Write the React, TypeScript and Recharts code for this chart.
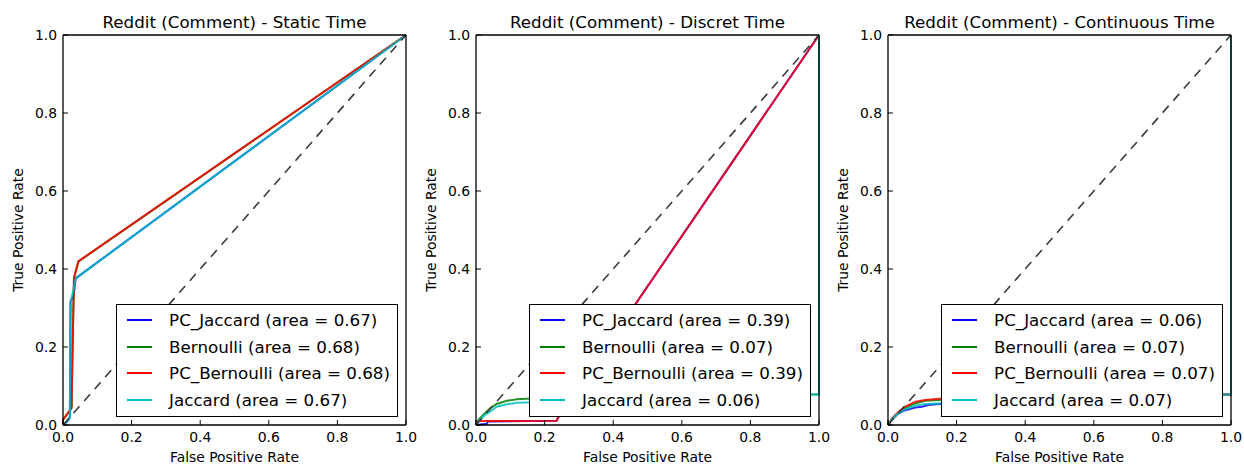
import React from "react";
import { LineChart, Line, XAxis, YAxis } from "recharts";

const ticks = [0, 0.2, 0.4, 0.6, 0.8, 1.0];
const seriesNames = ["PC_Jaccard", "Bernoulli", "PC_Bernoulli", "Jaccard"];
const seriesColors = ["#0000ff", "#008000", "#ff0000", "#00bfbf"];
const chanceFpr = [0, 1];
const chanceTpr = [0, 1];

// Static Time
const staticTitle = "Reddit (Comment) - Static Time";
const staticAreas = [0.67, 0.68, 0.68, 0.67];
const staticPcJaccardFpr = [0, 0.006, 0.013, 0.02, 0.022, 0.03, 0.033, 0.037, 1];
const staticPcJaccardTpr = [0, 0.004, 0.01, 0.02, 0.316, 0.33, 0.346, 0.376, 1];
const staticBernoulliFpr = [0, 0, 0.025, 0.028, 0.032, 0.045, 1];
const staticBernoulliTpr = [0, 0.013, 0.043, 0.2, 0.376, 0.419, 1];
const staticPcBernoulliFpr = [0, 0, 0.025, 0.028, 0.032, 0.045, 1];
const staticPcBernoulliTpr = [0, 0.014, 0.044, 0.2, 0.377, 0.42, 1];
const staticJaccardFpr = [0, 0.006, 0.013, 0.02, 0.022, 0.03, 0.037, 1];
const staticJaccardTpr = [0, 0.004, 0.01, 0.02, 0.316, 0.345, 0.376, 1];

// Discret Time
const discretTitle = "Reddit (Comment) - Discret Time";
const discretAreas = [0.39, 0.07, 0.39, 0.06];
const discretPcJaccardFpr = [0, 0.031, 0.035, 0.235, 0.24, 1];
const discretPcJaccardTpr = [0, 0.003, 0.009, 0.011, 0.02, 1];
const discretBernoulliFpr = [0, 0.007, 0.026, 0.041, 0.06, 0.09, 0.119, 0.148, 0.3, 0.6, 0.98, 1, 1];
const discretBernoulliTpr = [0, 0.013, 0.03, 0.043, 0.054, 0.062, 0.066, 0.067, 0.071, 0.075, 0.078, 0.078, 1];
const discretPcBernoulliFpr = [0, 0.005, 0.235, 0.24, 1];
const discretPcBernoulliTpr = [0, 0.01, 0.011, 0.02, 1];
const discretJaccardFpr = [0, 0.007, 0.026, 0.041, 0.06, 0.09, 0.119, 0.148, 0.3, 0.6, 0.98, 1, 1];
const discretJaccardTpr = [0, 0.009, 0.026, 0.034, 0.047, 0.053, 0.057, 0.058, 0.065, 0.072, 0.078, 0.078, 1];

// Continuous Time
const continuousTitle = "Reddit (Comment) - Continuous Time";
const continuousAreas = [0.06, 0.07, 0.07, 0.07];
const continuousPcJaccardFpr = [0, 0.012, 0.031, 0.05, 0.08, 0.099, 0.117, 0.148, 0.4, 0.7, 0.98, 1, 1];
const continuousPcJaccardTpr = [0, 0.015, 0.03, 0.038, 0.045, 0.047, 0.051, 0.054, 0.066, 0.073, 0.078, 0.078, 1];
const continuousBernoulliFpr = [0, 0.012, 0.031, 0.05, 0.08, 0.109, 0.148, 0.4, 0.7, 0.98, 1, 1];
const continuousBernoulliTpr = [0, 0.016, 0.032, 0.043, 0.056, 0.062, 0.064, 0.071, 0.075, 0.078, 0.078, 1];
const continuousPcBernoulliFpr = [0, 0.012, 0.031, 0.05, 0.08, 0.109, 0.148, 0.4, 0.7, 0.98, 1, 1];
const continuousPcBernoulliTpr = [0, 0.017, 0.034, 0.047, 0.06, 0.064, 0.067, 0.072, 0.076, 0.078, 0.078, 1];
const continuousJaccardFpr = [0, 0.012, 0.031, 0.05, 0.08, 0.109, 0.148, 0.4, 0.7, 0.98, 1, 1];
const continuousJaccardTpr = [0, 0.015, 0.031, 0.04, 0.05, 0.054, 0.055, 0.066, 0.073, 0.078, 0.078, 1];

const toPoints = (fpr: number[], tpr: number[]) => fpr.map((x, i) => ({ x, y: tpr[i] }));

const FONT = "'DejaVu Sans', sans-serif";
const CHART_H = 465;
const TOP_H = 35;
const BOTTOM_H = 40;
const frame = { stroke: "#000", strokeWidth: 1.3 };

const BottomTick = ({ x, y, payload }: any) => (
  <g>
    <line x1={x} x2={x} y1={y} y2={y - 5} stroke="#000" />
    <text x={x} y={y + 17} textAnchor="middle" fontSize={13.9} fontFamily={FONT} fill="#000">
      {payload.value.toFixed(1)}
    </text>
  </g>
);
const TopTick = ({ x, y }: any) => <line x1={x} x2={x} y1={y} y2={y + 5} stroke="#000" />;
const LeftTick = ({ x, y, payload }: any) => (
  <g>
    <line x1={x} x2={x + 5} y1={y} y2={y} stroke="#000" />
    <text x={x - 6} y={y} dy="0.35em" textAnchor="end" fontSize={13.9} fontFamily={FONT} fill="#000">
      {payload.value.toFixed(1)}
    </text>
  </g>
);
const RightTick = ({ x, y }: any) => <line x1={x} x2={x - 5} y1={y} y2={y} stroke="#000" />;

type PanelProps = {
  title: string;
  curves: { x: number; y: number }[][];
  areas: number[];
  left: number;
  width: number;
  leftW: number;
  rightW: number;
};

function RocPanel({ title, curves, areas, left, width, leftW, rightW }: PanelProps) {
  const plotW = width - leftW - rightW;
  return (
    <div style={{ position: "absolute", left, top: 0, width, height: CHART_H }}>
      <LineChart width={width} height={CHART_H} margin={{ top: 0, right: 0, bottom: 0, left: 0 }}>
        <XAxis
          xAxisId="bottom"
          type="number"
          dataKey="x"
          domain={[0, 1]}
          ticks={ticks}
          interval={0}
          height={BOTTOM_H}
          tickSize={0}
          tickMargin={0}
          tickLine={false}
          axisLine={frame}
          tick={(p: any) => <BottomTick {...p} />}
        />
        <XAxis
          xAxisId="top"
          orientation="top"
          type="number"
          dataKey="x"
          domain={[0, 1]}
          ticks={ticks}
          interval={0}
          height={TOP_H}
          tickSize={0}
          tickMargin={0}
          tickLine={false}
          axisLine={frame}
          tick={(p: any) => <TopTick {...p} />}
        />
        <YAxis
          yAxisId="left"
          type="number"
          domain={[0, 1]}
          ticks={ticks}
          interval={0}
          width={leftW}
          tickSize={0}
          tickMargin={0}
          tickLine={false}
          axisLine={frame}
          tick={(p: any) => <LeftTick {...p} />}
        />
        <YAxis
          yAxisId="right"
          orientation="right"
          type="number"
          domain={[0, 1]}
          ticks={ticks}
          interval={0}
          width={rightW}
          tickSize={0}
          tickMargin={0}
          tickLine={false}
          axisLine={frame}
          tick={(p: any) => <RightTick {...p} />}
        />
        {curves.map((pts, i) => (
          <Line
            key={seriesNames[i]}
            xAxisId="bottom"
            yAxisId="left"
            data={pts}
            dataKey="y"
            type="linear"
            stroke={seriesColors[i]}
            strokeOpacity={0.85}
            strokeWidth={2}
            dot={false}
            isAnimationActive={false}
          />
        ))}
        <Line
          xAxisId="bottom"
          yAxisId="left"
          data={toPoints(chanceFpr, chanceTpr)}
          dataKey="y"
          type="linear"
          stroke="#3a3a3a"
          strokeWidth={1.6}
          strokeDasharray="9 7"
          dot={false}
          isAnimationActive={false}
        />
      </LineChart>
      <div
        style={{
          position: "absolute",
          left: leftW,
          width: plotW,
          top: 12,
          lineHeight: "20px",
          textAlign: "center",
          fontFamily: FONT,
          fontSize: 16.7,
          whiteSpace: "nowrap",
        }}
      >
        {title}
      </div>
      <div
        style={{
          position: "absolute",
          left: leftW,
          width: plotW,
          top: 449,
          lineHeight: "16px",
          textAlign: "center",
          fontFamily: FONT,
          fontSize: 13.9,
          whiteSpace: "nowrap",
        }}
      >
        False Positive Rate
      </div>
      <div
        style={{
          position: "absolute",
          left: leftW - 45,
          top: TOP_H + (CHART_H - TOP_H - BOTTOM_H) / 2,
          transform: "translate(-50%, -50%) rotate(-90deg)",
          lineHeight: "16px",
          fontFamily: FONT,
          fontSize: 13.9,
          whiteSpace: "nowrap",
        }}
      >
        True Positive Rate
      </div>
      <div
        style={{
          position: "absolute",
          right: rightW + 8,
          bottom: BOTTOM_H + 8,
          border: "1.3px solid #000",
          background: "#fff",
          padding: "2px 7px 3px 10px",
          fontFamily: FONT,
          fontSize: 16.7,
          whiteSpace: "nowrap",
        }}
      >
        {seriesNames.map((name, i) => (
          <div key={name} style={{ display: "flex", alignItems: "center", height: 26.5 }}>
            <div style={{ width: 25, height: 2, background: seriesColors[i], marginRight: 17 }} />
            <span>{`${name} (area = ${areas[i].toFixed(2)})`}</span>
          </div>
        ))}
      </div>
    </div>
  );
}

export default function App() {
  const staticCurves = [
    toPoints(staticPcJaccardFpr, staticPcJaccardTpr),
    toPoints(staticBernoulliFpr, staticBernoulliTpr),
    toPoints(staticPcBernoulliFpr, staticPcBernoulliTpr),
    toPoints(staticJaccardFpr, staticJaccardTpr),
  ];
  const discretCurves = [
    toPoints(discretPcJaccardFpr, discretPcJaccardTpr),
    toPoints(discretBernoulliFpr, discretBernoulliTpr),
    toPoints(discretPcBernoulliFpr, discretPcBernoulliTpr),
    toPoints(discretJaccardFpr, discretJaccardTpr),
  ];
  const continuousCurves = [
    toPoints(continuousPcJaccardFpr, continuousPcJaccardTpr),
    toPoints(continuousBernoulliFpr, continuousBernoulliTpr),
    toPoints(continuousPcBernoulliFpr, continuousPcBernoulliTpr),
    toPoints(continuousJaccardFpr, continuousJaccardTpr),
  ];

  return (
    <div style={{ position: "absolute", left: 0, top: 0, width: 1244, height: 465, background: "#fff" }}>
      <RocPanel title={staticTitle} curves={staticCurves} areas={staticAreas} left={0} width={420} leftW={63} rightW={14} />
      <RocPanel title={discretTitle} curves={discretCurves} areas={discretAreas} left={420} width={420} leftW={56} rightW={21} />
      <RocPanel title={continuousTitle} curves={continuousCurves} areas={continuousAreas} left={840} width={404} leftW={48} rightW={13} />
    </div>
  );
}
